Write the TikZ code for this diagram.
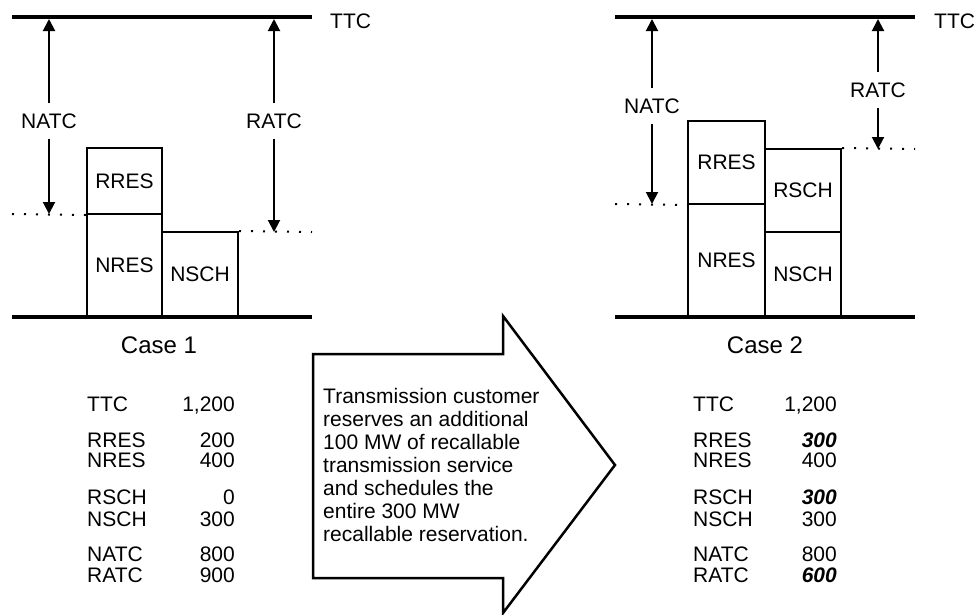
\documentclass[tikz,border=0pt]{standalone}
\usepackage{fontspec}
\setmainfont{Liberation Sans}
\usetikzlibrary{arrows.meta,positioning}

\begin{document}
\begin{tikzpicture}[x=1pt, y=-1pt,
    base/.style={line width=4pt},
    bar/.style={draw, line width=2pt, inner sep=0pt, font=\fontsize{21}{21}\selectfont},
    lvl/.style={line width=2pt, dash pattern=on 2pt off 10pt},
    dim/.style={line width=2pt, -{Triangle[width=12pt,length=12pt]}},
    lab/.style={inner sep=10pt, font=\fontsize{21}{21}\selectfont},
    txt/.style={inner sep=0pt, anchor=base west, font=\fontsize{21}{21}\selectfont},
    num/.style={inner sep=0pt, anchor=base east, font=\fontsize{21}{21}\selectfont},
    case/.style={inner sep=0pt, anchor=base, font=\fontsize{24}{24}\selectfont}]
    \useasboundingbox (0,0) rectangle (976,614);

    % Case 1
    \draw[base] (12,17) coordinate (top1w) -- (312,17);
    \draw[base] (12,317) -- (312,317);
    \node[txt] (ttc1) at (330,28) {TTC};

    \node[bar, minimum width=75pt, minimum height=66pt] (rres1) at (124.5,181) {RRES};
    \node[bar, minimum width=75pt, minimum height=103pt] (nres1) at (124.5,265.5) {NRES};
    \node[bar, minimum width=76pt, minimum height=85pt] (nsch1) at (200,274.5) {NSCH};

    \coordinate (nlvl1) at (12,214);
    \coordinate (rlvl1) at (312,232);
    \draw[lvl] (nlvl1) -- (rres1.south west);
    \draw[lvl] (nsch1.north east) -- (rlvl1);

    \node[lab] (natc1) at (49,121) {NATC};
    \node[lab] (ratc1) at (274,121) {RATC};
    \draw[dim, shorten >=2pt] (natc1.north) -- (natc1.north |- top1w);
    \draw[dim] (natc1.south) -- (natc1.south |- nlvl1);
    \draw[dim, shorten >=2pt] (ratc1.north) -- (ratc1.north |- top1w);
    \draw[dim] (ratc1.south) -- (ratc1.south |- rlvl1);

    \node[case] (case1) at (159,353) {Case 1};

    % Case 2
    \draw[base] (615,17) coordinate (top2w) -- (915,17);
    \draw[base] (615,317) -- (915,317);
    \node[txt] (ttc2) at (934,28) {TTC};

    \node[bar, minimum width=77pt, minimum height=83pt] (rres2) at (726.5,162.5) {RRES};
    \node[bar, minimum width=77pt, minimum height=113pt] (nres2) at (726.5,260.5) {NRES};
    \node[bar, minimum width=76pt, minimum height=83pt] (rsch2) at (803,190.5) {RSCH};
    \node[bar, minimum width=76pt, minimum height=85pt] (nsch2) at (803,274.5) {NSCH};

    \coordinate (nlvl2) at (615,204);
    \coordinate (rlvl2) at (915,149);
    \draw[lvl] (nlvl2) -- (rres2.south west);
    \draw[lvl] (rsch2.north east) -- (rlvl2);

    \node[lab] (natc2) at (652,106) {NATC};
    \node[lab] (ratc2) at (878,90) {RATC};
    \draw[dim, shorten >=2pt] (natc2.north) -- (natc2.north |- top2w);
    \draw[dim] (natc2.south) -- (natc2.south |- nlvl2);
    \draw[dim, shorten >=2pt] (ratc2.north) -- (ratc2.north |- top2w);
    \draw[dim] (ratc2.south) -- (ratc2.south |- rlvl2);

    \node[case] (case2) at (765,353) {Case 2};

    % Pfeil mit Erlaeuterung
    \draw[line width=2.5pt] (313,354) -- (503,354) -- (503,316) -- (615,465)
        -- (503,613) -- (503,578) -- (313,578) -- cycle;
    \node[inner sep=0pt, anchor=north west, align=left,
          font=\fontsize{21}{23}\selectfont] (note) at (323,388)
        {Transmission customer\\reserves an additional\\100 MW of recallable\\
         transmission service\\and schedules the\\entire 300 MW\\recallable reservation.};

    % Werte Case 1
    \node[txt] (k1a) at (87,411.5) {TTC};   \node[num] (v1a) at (235,411.5) {1,200};
    \node[txt] (k1b) at (87,447) {RRES};    \node[num] (v1b) at (235,447) {200};
    \node[txt] (k1c) at (87,467.5) {NRES};  \node[num] (v1c) at (235,467.5) {400};
    \node[txt] (k1d) at (87,504) {RSCH};    \node[num] (v1d) at (235,504) {0};
    \node[txt] (k1e) at (87,526) {NSCH};    \node[num] (v1e) at (235,526) {300};
    \node[txt] (k1f) at (87,561) {NATC};    \node[num] (v1f) at (235,561) {800};
    \node[txt] (k1g) at (87,582.5) {RATC};  \node[num] (v1g) at (235,582.5) {900};

    % Werte Case 2
    \node[txt] (k2a) at (693,411.5) {TTC};  \node[num] (v2a) at (837,411.5) {1,200};
    \node[txt] (k2b) at (693,447) {RRES};   \node[num] (v2b) at (837,447) {\bfseries\itshape 300};
    \node[txt] (k2c) at (693,467.5) {NRES}; \node[num] (v2c) at (837,467.5) {400};
    \node[txt] (k2d) at (693,504) {RSCH};   \node[num] (v2d) at (837,504) {\bfseries\itshape 300};
    \node[txt] (k2e) at (693,526) {NSCH};   \node[num] (v2e) at (837,526) {300};
    \node[txt] (k2f) at (693,561) {NATC};   \node[num] (v2f) at (837,561) {800};
    \node[txt] (k2g) at (693,582.5) {RATC}; \node[num] (v2g) at (837,582.5) {\bfseries\itshape 600};
\end{tikzpicture}
\end{document}
